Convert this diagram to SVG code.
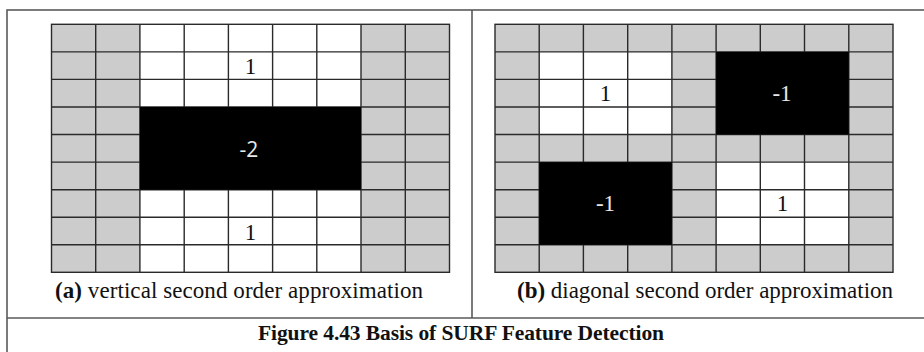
<svg xmlns="http://www.w3.org/2000/svg" width="924" height="352" viewBox="0 0 924 352">
<style>
.frame{fill:none;stroke:#5a5a5a;stroke-width:1.6}
.g{fill:#cccccc}
.w{fill:#ffffff}
.k{fill:#000000}
.grid{stroke:#2a2a2a;stroke-width:1.4;fill:none}
.num{font-family:"Liberation Serif","Times New Roman",serif;font-size:23px;fill:#111;text-anchor:middle}
.numw{font-family:"Liberation Serif","Times New Roman",serif;font-size:23px;fill:#e8e8e8;text-anchor:middle}
.nums{font-family:"Open Sans","Liberation Sans",sans-serif;font-size:21px;fill:#e8e8e8;text-anchor:middle}
.cap{font-family:"Liberation Serif","Times New Roman",serif;font-size:23px;fill:#111;text-anchor:middle}
.ttl{font-family:"Liberation Serif","Times New Roman",serif;font-size:21.5px;font-weight:bold;fill:#111;text-anchor:middle}
.b{font-weight:bold}
</style>
<rect width="924" height="352" fill="#ffffff"/>
<g id="frame">
<rect class="frame" x="7" y="10" width="930" height="360"/>
<line class="frame" x1="7" y1="318" x2="930" y2="318"/>
<line class="frame" x1="472" y1="10" x2="472" y2="318"/>
</g>
<g id="panel-a">
<rect class="w" x="51.5" y="24.3" width="398" height="248"/>
<rect class="g" x="51.5" y="24.3" width="88.4" height="248"/>
<rect class="g" x="361" y="24.3" width="88.5" height="248"/>
<g class="grid">
<rect x="51.5" y="24.3" width="398" height="248"/>
<path d="M95.7 24.3V272.3M139.9 24.3V272.3M184.2 24.3V272.3M228.4 24.3V272.3M272.6 24.3V272.3M316.8 24.3V272.3M361 24.3V272.3M405.3 24.3V272.3"/>
<path d="M51.5 51.9H449.5M51.5 79.4H449.5M51.5 107H449.5M51.5 134.5H449.5M51.5 162.1H449.5M51.5 189.7H449.5M51.5 217.2H449.5M51.5 244.8H449.5"/>
</g>
<rect class="k" x="139.9" y="107" width="221.1" height="82.7"/>
<text class="num" x="250.5" y="74">1</text>
<text class="nums" x="249" y="157">-2</text>
<text class="num" x="250.5" y="239.5">1</text>
<text class="cap" x="239" y="298" textLength="368" lengthAdjust="spacing"><tspan class="b">(a)</tspan> vertical second order approximation</text>
</g>
<g id="panel-b">
<rect class="g" x="495" y="24.3" width="398" height="248"/>
<rect class="w" x="539.2" y="51.9" width="132.7" height="82.6"/>
<rect class="w" x="716.1" y="162.1" width="132.7" height="82.7"/>
<g class="grid">
<rect x="495" y="24.3" width="398" height="248"/>
<path d="M539.2 24.3V272.3M583.4 24.3V272.3M627.7 24.3V272.3M671.9 24.3V272.3M716.1 24.3V272.3M760.3 24.3V272.3M804.5 24.3V272.3M848.8 24.3V272.3"/>
<path d="M495 51.9H893M495 79.4H893M495 107H893M495 134.5H893M495 162.1H893M495 189.7H893M495 217.2H893M495 244.8H893"/>
</g>
<rect class="k" x="716.1" y="51.9" width="132.7" height="82.6"/>
<rect class="k" x="539.2" y="162.1" width="132.7" height="82.7"/>
<text class="num" x="605.5" y="101">1</text>
<text class="numw" x="782" y="101">-1</text>
<text class="numw" x="605.5" y="211">-1</text>
<text class="num" x="782.4" y="211">1</text>
<text class="cap" x="705" y="298" textLength="376" lengthAdjust="spacing"><tspan class="b">(b)</tspan> diagonal second order approximation</text>
</g>
<g id="title">
<text class="ttl" x="461" y="340" textLength="406" lengthAdjust="spacing">Figure 4.43 Basis of SURF Feature Detection</text>
</g>
</svg>
